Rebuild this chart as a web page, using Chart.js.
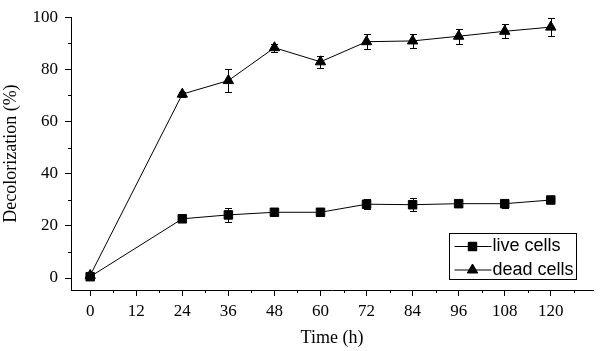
<!DOCTYPE html>
<html>
<head>
<meta charset="utf-8">
<script src="https://cdn.jsdelivr.net/npm/chart.js@4/dist/chart.umd.min.js"></script>
<style>
  html, body { margin: 0; padding: 0; background: #fff; }
  canvas { display: block; }
</style>
</head>
<body>
<canvas id="c" width="600" height="351"></canvas>
<script>
// data
const times = [0, 24, 36, 48, 60, 72, 84, 96, 108, 120];
const liveCells = [0.5, 22.7, 24.2, 25.2, 25.2, 28.3, 28.1, 28.5, 28.5, 29.9];
const liveErr = [0.5, 0.8, 2.7, 0.6, 0.6, 2.0, 2.4, 1.0, 1.8, 0.8];
const deadCells = [1.0, 70.5, 75.7, 88.3, 82.9, 90.6, 90.9, 92.7, 94.6, 96.2];
const deadErr = [0.8, 1.0, 4.3, 1.5, 2.4, 2.8, 2.8, 2.8, 2.7, 3.5];
const xMinorTicks = [6, 18, 30, 42, 54, 66, 78, 90, 102, 114, 126];
const yMinorTicks = [10, 30, 50, 70, 90];

const serif = 'Liberation Serif';
const sans = 'Liberation Sans';

const toPoints = (ys) => times.map((t, i) => ({x: t, y: ys[i]}));

// error bars, drawn under the markers
const errorBars = {
  id: 'errorBars',
  beforeDatasetsDraw(chart) {
    const {ctx, scales: {x, y}} = chart;
    ctx.save();
    ctx.strokeStyle = '#000';
    ctx.lineWidth = 1;
    chart.data.datasets.forEach(ds => {
      ds.data.forEach((p, i) => {
        const e = ds.errors[i];
        const px = Math.round(x.getPixelForValue(p.x)) + 0.5;
        const top = Math.round(y.getPixelForValue(p.y + e)) + 0.5;
        const bot = Math.round(y.getPixelForValue(p.y - e)) + 0.5;
        ctx.beginPath();
        ctx.moveTo(px, top); ctx.lineTo(px, bot);
        ctx.moveTo(px - 3.5, top); ctx.lineTo(px + 3.5, top);
        ctx.moveTo(px - 3.5, bot); ctx.lineTo(px + 3.5, bot);
        ctx.stroke();
      });
    });
    ctx.restore();
  }
};

// minor ticks + boxed legend
const extras = {
  id: 'extras',
  afterDraw(chart) {
    const {ctx, chartArea: a, scales: {x, y}} = chart;
    ctx.save();
    ctx.strokeStyle = '#000';
    ctx.lineWidth = 1;
    ctx.beginPath();
    xMinorTicks.forEach(v => {
      const px = Math.round(x.getPixelForValue(v)) + 0.5;
      ctx.moveTo(px, a.bottom); ctx.lineTo(px, a.bottom + 3);
    });
    yMinorTicks.forEach(v => {
      const py = Math.round(y.getPixelForValue(v)) + 0.5;
      ctx.moveTo(a.left, py); ctx.lineTo(a.left - 3, py);
    });
    ctx.stroke();

    // legend
    const bx = a.right - 143.5, by = a.bottom - 56.5, bw = 127, bh = 46;
    ctx.strokeRect(bx, by, bw, bh);
    ctx.font = '18px "' + sans + '"';
    ctx.fillStyle = '#000';
    ctx.textBaseline = 'middle';
    chart.data.datasets.forEach((ds, i) => {
      const ry = by + 13 + i * 23.5;
      ctx.beginPath();
      ctx.moveTo(bx + 5, ry); ctx.lineTo(bx + 42, ry);
      ctx.stroke();
      Chart.helpers.drawPoint(ctx, {
        pointStyle: ds.pointStyle, radius: ds.pointRadius, borderWidth: 1
      }, bx + 23, ry);
      ctx.fill();
      ctx.fillText(ds.label, bx + 43, ry);
    });
    ctx.restore();
  }
};

const ctx = document.getElementById('c');
new Chart(ctx, {
  type: 'scatter',
  data: {
    datasets: [{
      label: 'live cells',
      data: toPoints(liveCells),
      errors: liveErr,
      showLine: true,
      borderColor: '#000',
      borderWidth: 1,
      backgroundColor: '#000',
      pointStyle: 'rect',
      pointRadius: 6,
      pointBorderWidth: 1,
    }, {
      label: 'dead cells',
      data: toPoints(deadCells),
      errors: deadErr,
      showLine: true,
      borderColor: '#000',
      borderWidth: 1,
      backgroundColor: '#000',
      pointStyle: 'triangle',
      pointRadius: 6,
      pointBorderWidth: 1,
    }]
  },
  options: {
    responsive: false,
    animation: false,
    layout: {padding: {top: 15, right: 3, left: 0, bottom: 0}},
    plugins: {legend: {display: false}, tooltip: {enabled: false}},
    scales: {
      x: {
        type: 'linear',
        min: -5,
        max: 131,
        afterFit: (s) => { s.height = 61; },
        ticks: {
          stepSize: 12,
          includeBounds: false,
          color: '#000',
          padding: 5,
          font: {family: serif, size: 17},
        },
        grid: {drawOnChartArea: false, tickLength: 6, color: '#000'},
        border: {color: '#000', width: 1},
        title: {
          display: true,
          text: 'Time (h)',
          color: '#000',
          font: {family: serif, size: 18},
          padding: {top: 0, bottom: 2},
        },
      },
      y: {
        min: -4.6,
        max: 100,
        afterFit: (s) => { s.width = 71; },
        ticks: {
          stepSize: 20,
          includeBounds: false,
          color: '#000',
          padding: 7,
          font: {family: serif, size: 17},
        },
        grid: {drawOnChartArea: false, tickLength: 6, color: '#000'},
        border: {color: '#000', width: 1},
        title: {
          display: true,
          text: 'Decolorization (%)',
          color: '#000',
          font: {family: serif, size: 18},
          padding: {top: 0, bottom: 0},
        },
      }
    }
  },
  plugins: [errorBars, extras]
});
</script>
</body>
</html>
